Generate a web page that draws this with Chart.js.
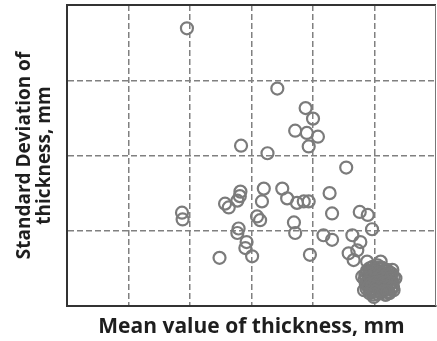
<!DOCTYPE html>
<html>
<head>
<meta charset="utf-8">
<script src="https://cdn.jsdelivr.net/npm/chart.js@4"></script>
<style>
  html, body { margin: 0; padding: 0; background: #fff; }
  #wrap { width: 437px; height: 341px; position: relative; }
</style>
</head>
<body>
<div id="wrap"><canvas id="chart"></canvas></div>
<script>
// 厚みの平均値 (x) と標準偏差 (y)、グリッド単位で読み取り
const meanValues = [
  1.95, 3.42, 3.88, 4.00, 3.71, 3.90, 4.08, 3.93, 2.83, 3.26,
  4.54, 1.87, 1.88, 2.57, 2.63, 2.82, 2.81, 2.77, 3.20, 3.17,
  3.09, 3.14, 2.79, 2.77, 2.92, 2.90, 3.01, 2.48, 3.50, 3.58,
  3.74, 3.85, 3.93, 4.27, 4.31, 3.69, 3.71, 4.17, 4.31, 3.95,
  4.76, 4.89, 4.96, 4.64, 4.77, 4.72, 4.58, 4.66, 4.88, 5.10,
  5.29, 5.34, 5.31, 4.80, 4.83, 4.99, 5.18,
  // 右下の密集部
  4.97, 5.05, 5.12,
  4.88, 4.95, 5.01, 5.08, 5.16, 5.24,
  4.85, 4.91, 4.98, 5.05, 5.11, 5.18, 5.25, 5.31,
  4.84, 4.90, 4.97, 5.03, 5.09, 5.16, 5.22, 5.29,
  4.86, 4.92, 4.99, 5.05, 5.12, 5.18, 5.24, 5.30,
  4.87, 4.94, 5.00, 5.07, 5.13, 5.20, 5.27,
  4.92, 4.98, 5.05, 5.11, 5.18, 5.24,
  4.92, 4.99, 5.06, 5.13, 5.20,
  4.88, 4.94, 5.01, 5.08, 5.14, 5.21, 5.28,
  4.87, 4.94, 5.00, 5.06, 5.13, 5.19, 5.26,
  4.88, 4.95, 5.01, 5.08, 5.14, 5.21, 5.27,
  4.90, 4.96, 5.03, 5.10, 5.16, 5.23, 5.29,
  4.95, 5.02, 5.08, 5.15, 5.21
];
const stdValues = [
  3.69, 2.89, 2.63, 2.49, 2.33, 2.30, 2.25, 2.12, 2.13, 2.03,
  1.84, 1.24, 1.15, 1.36, 1.31, 1.52, 1.46, 1.40, 1.56, 1.39,
  1.19, 1.14, 1.03, 0.97, 0.85, 0.77, 0.66, 0.64, 1.56, 1.43,
  1.37, 1.39, 1.39, 1.50, 1.23, 1.11, 0.97, 0.94, 0.88, 0.68,
  1.25, 1.21, 1.02, 0.94, 0.85, 0.74, 0.70, 0.61, 0.59, 0.59,
  0.48, 0.37, 0.21, 0.39, 0.21, 0.12, 0.15,
  0.52, 0.54, 0.51,
  0.47, 0.45, 0.48, 0.46, 0.47, 0.45,
  0.41, 0.39, 0.40, 0.42, 0.39, 0.41, 0.40, 0.38,
  0.35, 0.33, 0.34, 0.36, 0.33, 0.35, 0.34, 0.32,
  0.29, 0.27, 0.28, 0.30, 0.27, 0.29, 0.28, 0.26,
  0.23, 0.21, 0.22, 0.24, 0.21, 0.23, 0.22,
  0.17, 0.15, 0.16, 0.18, 0.15, 0.17,
  0.50, 0.49, 0.51, 0.49, 0.48,
  0.44, 0.43, 0.42, 0.44, 0.43, 0.42, 0.43,
  0.38, 0.37, 0.36, 0.38, 0.37, 0.36, 0.37,
  0.31, 0.30, 0.31, 0.32, 0.30, 0.31, 0.30,
  0.25, 0.26, 0.25, 0.24, 0.26, 0.25, 0.24,
  0.19, 0.20, 0.19, 0.20, 0.19
];

const X_MAX = 6;
const Y_MAX = 4;
const GRID_COLOR = '#808080';
const TEXT_COLOR = '#1e1e1e';

const points = meanValues.map((x, i) => ({ x, y: stdValues[i] }));

// 外枠の上辺と右辺
const framePlugin = {
  id: 'frame',
  beforeDatasetsDraw(chart) {
    const { ctx, chartArea: a } = chart;
    ctx.save();
    ctx.strokeStyle = '#333';
    ctx.lineWidth = 2;
    ctx.beginPath();
    ctx.moveTo(a.left, a.top);
    ctx.lineTo(a.right, a.top);
    ctx.stroke();
    ctx.strokeStyle = '#777';
    ctx.lineWidth = 1;
    ctx.beginPath();
    ctx.moveTo(a.right - 0.5, a.top);
    ctx.lineTo(a.right - 0.5, a.bottom);
    ctx.stroke();
    ctx.restore();
  }
};

function gridColor(max) {
  return (c) => (c.tick && (c.tick.value === 0 || c.tick.value === max)) ? 'rgba(0,0,0,0)' : GRID_COLOR;
}

new Chart(document.getElementById('chart'), {
  type: 'scatter',
  data: {
    datasets: [{
      data: points,
      pointRadius: 6,
      pointHoverRadius: 6,
      pointBorderWidth: 2.2,
      borderColor: '#7b7b7b',
      backgroundColor: 'rgba(0,0,0,0)'
    }]
  },
  options: {
    responsive: true,
    maintainAspectRatio: false,
    animation: false,
    layout: { autoPadding: false, padding: { top: 5, right: 1, left: 0, bottom: 0 } },
    plugins: {
      legend: { display: false },
      tooltip: { enabled: false }
    },
    scales: {
      x: {
        type: 'linear',
        min: 0,
        max: X_MAX,
        ticks: { display: false, stepSize: 1 },
        grid: { color: gridColor(X_MAX), lineWidth: 1.5, drawTicks: false },
        border: { display: true, color: '#333', width: 2, dash: [6, 3] },
        title: {
          display: true,
          text: 'Mean value of thickness, mm',
          color: TEXT_COLOR,
          font: { family: '"Open Sans", sans-serif', size: 21, weight: 'bold', lineHeight: 1.1 },
          padding: { top: 0, bottom: 2 }
        },
        afterFit(scale) { scale.height = 35; }
      },
      y: {
        type: 'linear',
        min: 0,
        max: Y_MAX,
        ticks: { display: false, stepSize: 1 },
        grid: { color: gridColor(Y_MAX), lineWidth: 1.5, drawTicks: false },
        border: { display: true, color: '#333', width: 2, dash: [6, 3] },
        title: {
          display: true,
          text: ['Standard Deviation of', 'thickness, mm'],
          color: TEXT_COLOR,
          font: { family: '"Open Sans", sans-serif', size: 19, weight: 'bold', lineHeight: 1.05 },
          padding: { top: 15, bottom: 0 }
        },
        afterFit(scale) { scale.width = 67; }
      }
    }
  },
  plugins: [framePlugin]
});
</script>
</body>
</html>
